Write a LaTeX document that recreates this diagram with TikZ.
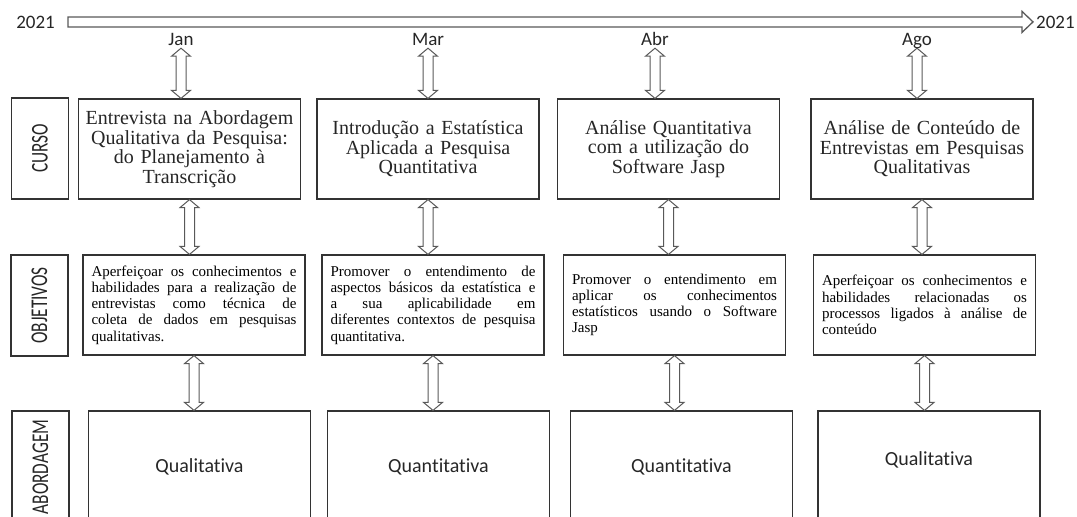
\documentclass[tikz,border=0pt]{standalone}
\usepackage{fontspec}
\setmainfont{Liberation Serif}
\newfontfamily\calibri[Ligatures=NoCommon]{Carlito}
\usetikzlibrary{calc,positioning}
\hbadness=10000

% hollow arrow with two heads, from an upper point down to a lower one
\newcommand{\twoway}[2]{%
  \draw[hollow] (#1) -- ($(#1)+(9.5,8)$) -- ($(#1)+(5,8)$)
    -- ($(#1 |- #2)+(5,-8)$) -- ($(#1 |- #2)+(9.5,-8)$) -- (#1 |- #2)
    -- ($(#1 |- #2)+(-9.5,-8)$) -- ($(#1 |- #2)+(-5,-8)$)
    -- ($(#1)+(-5,8)$) -- ($(#1)+(-9.5,8)$) -- cycle;}

\begin{document}
\begin{tikzpicture}[x=1pt,y=-1pt,
    box/.style={draw=black!80, line width=1.2pt, minimum width=222pt, minimum height=100pt, inner sep=0pt},
    curso/.style={box, text=black!85, text width=212pt, align=center, font=\fontsize{20}{19.5}\selectfont},
    obj/.style={box, text width=205pt, align=justify, font=\fontsize{15}{16.2}\selectfont},
    abord/.style={box, minimum height=112pt, text=black!85, font=\calibri\fontsize{20}{24}\selectfont},
    rowlabel/.style={draw=black!80, line width=1.2pt, rotate=90, minimum width=101pt, minimum height=57pt, inner sep=0pt, text=black!85, font=\calibri\fontsize{24}{24}\selectfont},
    month/.style={anchor=base, inner sep=3pt, text depth=0pt, text=black!85, font=\calibri\fontsize{19}{20}\selectfont},
    year/.style={inner sep=0pt, text=black!85, font=\calibri\fontsize{19}{20}\selectfont},
    hollow/.style={draw=black!65, line width=1pt, fill=white}]

    \clip (0,0) rectangle (1077,517);

    % timeline
    \node[year, anchor=base east] (y0) at (55,28) {2021};
    \node[year, anchor=base west] (y1) at (1036,28) {2021};
    \coordinate (tl) at ($(y0.east)+(13,0)$);
    \coordinate (tr) at ($(y1.west)+(-3,0)$);
    \draw[hollow, line width=1.3pt] ($(tl)+(0,-5)$) -- ($(tr)+(-11,-5)$) -- ($(tr)+(-11,-10.5)$) -- (tr)
        -- ($(tr)+(-11,10.5)$) -- ($(tr)+(-11,5)$) -- ($(tl)+(0,5)$) -- cycle;

    \node[month] (jan) at (181,45) {Jan};
    \node[month] (mar) at (428,45) {Mar};
    \node[month] (abr) at (655,45) {Abr};
    \node[month] (ago) at (917,45) {Ago};

    % row labels
    \node[rowlabel] (lcurso) at (40,148.5) {\scalebox{.72}[1]{CURSO}};
    \node[rowlabel] (lobj) at (39.5,305.5) {\scalebox{.72}[1]{OBJETIVOS}};
    \node[rowlabel, minimum width=112pt] (labord) at (40.5,467) {\scalebox{.72}[1]{ABORDAGEM}};

    % cursos
    \node[curso] (c1) at (189.5,149) {Entrevista na Abordagem\\Qualitativa da Pesquisa:\\do Planejamento à\\Transcrição};
    \node[curso] (c2) at (428,149) {Introdução a Estatística\\Aplicada a Pesquisa\\Quantitativa};
    \node[curso] (c3) at (668.5,149) {Análise Quantitativa\\com a utilização do\\Software Jasp};
    \node[curso] (c4) at (922,149) {Análise de Conteúdo de\\Entrevistas em Pesquisas\\Qualitativas};

    % objetivos
    \node[obj] (o1) at (194,305) {Aperfeiçoar os conhecimentos e\linebreak habilidades para a realização de\linebreak entrevistas como técnica de\linebreak coleta de dados em pesquisas\linebreak qualitativas.};
    \node[obj] (o2) at (433,305) {Promover o entendimento de\linebreak aspectos básicos da estatística e\linebreak a sua aplicabilidade em\linebreak diferentes contextos de pesquisa\linebreak quantitativa.};
    \node[obj] (o3) at (674.5,305) {Promover o entendimento em\linebreak aplicar os conhecimentos\linebreak estatísticos usando o Software\linebreak Jasp};
    \node[obj] (o4) at (924.5,305) {Aperfeiçoar os conhecimentos e\linebreak habilidades relacionadas os\linebreak processos ligados à análise de\linebreak conteúdo};

    % abordagem (cut by the page edge)
    \node[abord] (a1) at (199.5,467) {Qualitativa};
    \node[abord] (a2) at (438.5,467) {Quantitativa};
    \node[abord] (a3) at (681.5,467) {Quantitativa};
    \node[abord, text depth=16pt] (a4) at (929,467) {Qualitativa};

    \foreach \m/\c in {jan/c1, mar/c2, abr/c3, ago/c4}
        \twoway{\m.south}{\c.north};
    \foreach \a/\b in {c1/o1, c2/o2, c3/o3, c4/o4, o1/a1, o2/a2, o3/a3, o4/a4}
        \twoway{\a.south}{\b.north};

\end{tikzpicture}
\end{document}
